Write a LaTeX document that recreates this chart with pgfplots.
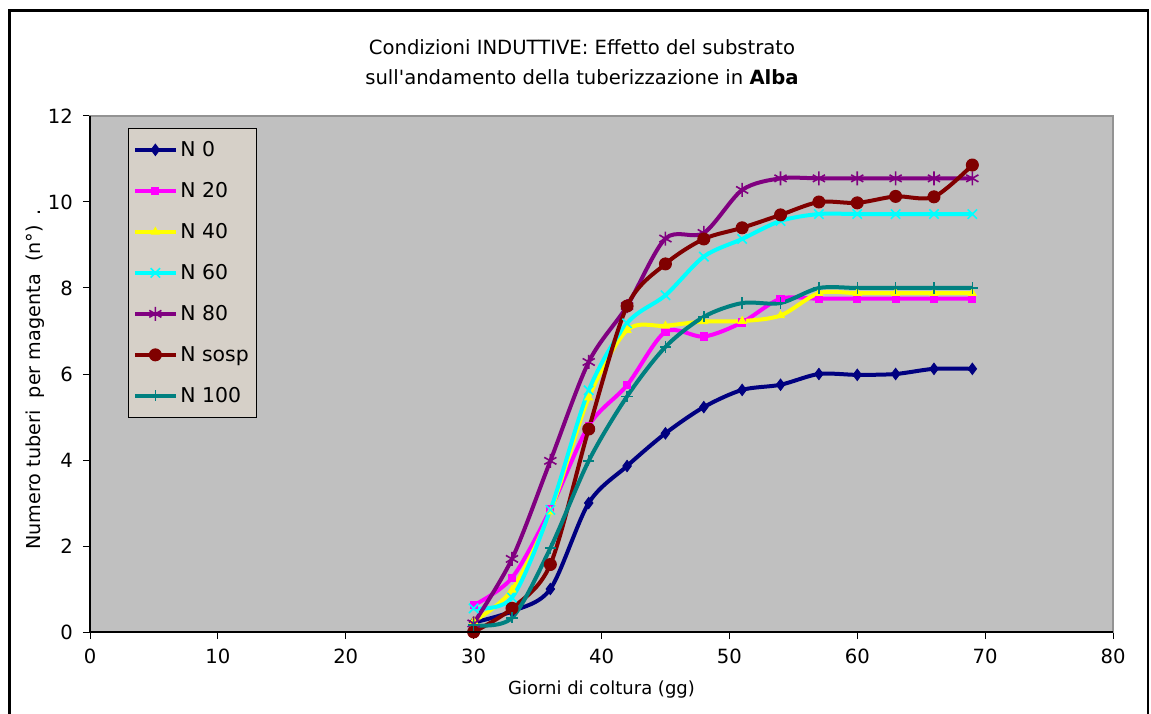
\documentclass[border=0pt]{standalone}
\usepackage{pgfplots}
\pgfplotsset{compat=1.18}
\usepackage{fontspec}
\setmainfont{DejaVu Sans}[Ligatures=TeXOff]
\definecolor{plotbg}{RGB}{192,192,192}
\definecolor{legbg}{RGB}{214,208,200}
\definecolor{cNzero}{RGB}{0,0,128}
\definecolor{cNtwenty}{RGB}{255,0,255}
\definecolor{cNforty}{RGB}{255,255,0}
\definecolor{cNsixty}{RGB}{0,255,255}
\definecolor{cNeighty}{RGB}{128,0,128}
\definecolor{cNsosp}{RGB}{128,0,0}
\definecolor{cNhundred}{RGB}{0,128,128}

% giorni di coltura e numero medio di tuberi per ciascun trattamento
\pgfplotstableread{
gg   N0    N20   N40   N60   N80    Nsosp  N100
30   0.22  0.62  0.25  0.55  0.20   0.00   0.16
33   0.48  1.26  0.98  0.80  1.70   0.55   0.33
36   1.00  2.85  2.80  2.84  3.98   1.57   1.95
39   3.00  4.80  5.45  5.62  6.28   4.72   3.98
42   3.86  5.74  7.02  7.18  7.58   7.58   5.48
45   4.62  6.98  7.12  7.83  9.15   8.56   6.63
48   5.23  6.87  7.22  8.73  9.28   9.14   7.33
51   5.63  7.20  7.23  9.14  10.28  9.40   7.65
54   5.75  7.75  7.36  9.56  10.55  9.70   7.65
57   6.00  7.75  7.88  9.72  10.55  10.00  8.00
60   5.98  7.75  7.88  9.72  10.55  9.98   8.00
63   6.00  7.75  7.88  9.72  10.55  10.13  8.00
66   6.12  7.75  7.88  9.72  10.55  10.12  8.00
69   6.12  7.75  7.88  9.72  10.55  10.86  8.00
}\datatab

\begin{document}
\begin{tikzpicture}
\useasboundingbox (0,0) rectangle (575.5pt,356.5pt);
\fill[white] (0,0) rectangle (575.5pt,356.5pt);
% cornice del grafico
\draw[line width=1.4pt] (4.6pt,-5pt) -- (4.6pt,351.4pt) -- (574pt,351.4pt) -- (574pt,-5pt);
% titolo
\node[align=center, font=\fontsize{9.8}{15}\selectfont] at (291pt,325.5pt)
  {Condizioni INDUTTIVE: Effetto del substrato\\sull'andamento della tuberizzazione in \textbf{Alba}};

\begin{axis}[
  at={(45pt,40.5pt)}, anchor=south west,
  scale only axis, width=511.5pt, height=258pt,
  xmin=0, xmax=80, ymin=0, ymax=12,
  xtick={0,10,...,80}, ytick={0,2,...,12},
  tick pos=left, tick align=outside,
  major tick length=3.5pt,
  tick style={black, line width=0.5pt},
  axis background/.style={fill=plotbg},
  axis line style={draw=gray!85, line width=1pt},
  every tick label/.append style={font=\fontsize{9.8}{11}\selectfont},
  /pgf/number format/assume math mode=true,
  xticklabel style={yshift=-1.5pt},
  yticklabel style={xshift=-1.5pt},
  xlabel={Giorni di coltura (gg)},
  ylabel={Numero tuberi\ \ per magenta\ \ (n°)\rlap{\hspace{5pt}.}},
  xlabel style={font=\fontsize{9}{11}\selectfont, at={(axis description cs:0.5,-0.1124)}, anchor=center},
  ylabel style={font=\fontsize{9.6}{11}\selectfont, at={(axis description cs:-0.0538,0.474)}, anchor=center},
  extra description/.code={
    \draw[black, line width=0.6pt] (rel axis cs:0,1) -- (rel axis cs:0,0) -- (rel axis cs:1,0);
  },
  every axis plot/.append style={line width=2pt, smooth, tension=0.5},
  legend style={
    at={(0.037,0.977)}, anchor=north west,
    draw=black, line width=0.5pt, fill=legbg,
    font=\fontsize{10.2}{12}\selectfont,
    inner xsep=2.5pt, inner ysep=5pt, row sep=9pt,
    nodes={inner sep=1.5pt, text height=7.5pt, text depth=1pt},
  },
  legend cell align=left,
  legend image code/.code={
    \draw[mark repeat=2, mark phase=2] plot coordinates {(0pt,0pt) (10pt,0pt) (20pt,0pt)};
  },
]
\addplot[color=cNzero, mark=diamond*, mark size=2.8pt, mark options={solid, line width=0.5pt}]
  table[x=gg, y=N0] {\datatab};
\addlegendentry{N 0}
\addplot[color=cNtwenty, mark=square*, mark size=1.8pt, mark options={solid, line width=0.5pt}]
  table[x=gg, y=N20] {\datatab};
\addlegendentry{N 20}
\addplot[color=cNforty, mark=triangle*, mark size=2.2pt, mark options={solid, line width=0.5pt}]
  table[x=gg, y=N40] {\datatab};
\addlegendentry{N 40}
\addplot[color=cNsixty, mark=x, mark size=3.3pt, mark options={solid, line width=0.8pt}]
  table[x=gg, y=N60] {\datatab};
\addlegendentry{N 60}
\addplot[color=cNeighty, mark=asterisk, mark size=3.5pt, mark options={solid, line width=0.8pt}]
  table[x=gg, y=N80] {\datatab};
\addlegendentry{N 80}
\addplot[color=cNsosp, mark=*, mark size=3pt, mark options={solid, line width=0.5pt}]
  table[x=gg, y=Nsosp] {\datatab};
\addlegendentry{N sosp}
\addplot[color=cNhundred, mark=+, mark size=2.8pt, mark options={solid, line width=0.7pt}]
  table[x=gg, y=N100] {\datatab};
\addlegendentry{N 100}
\end{axis}
\end{tikzpicture}
\end{document}
